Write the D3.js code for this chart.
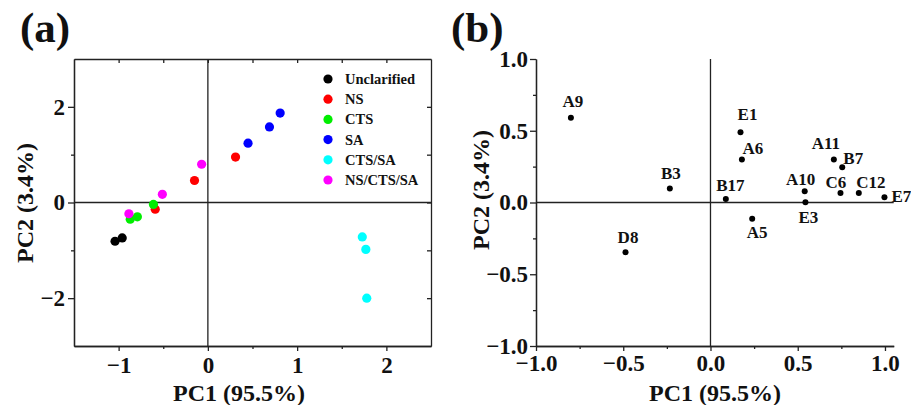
<!DOCTYPE html>
<html>
<head>
<meta charset="utf-8">
<script src="https://cdn.jsdelivr.net/npm/d3@7"></script>
<style>
  body { margin: 0; background: #fff; }
  svg text { font-family: "Liberation Serif", "Times New Roman", serif; font-weight: bold; fill: #111; }
</style>
</head>
<body>
<div id="chart"></div>
<script>
// ---- panel (a) data: PCA scores per treatment group ----
var groups = ["Unclarified", "NS", "CTS", "SA", "CTS/SA", "NS/CTS/SA"];
var groupColors = ["#000000", "#ff0000", "#00ee00", "#0000ff", "#00ffff", "#ff00ff"];
var groupPC1 = [
  [-1.04, -0.96],
  [-0.59, -0.15, 0.31],
  [-0.87, -0.79, -0.61],
  [0.45, 0.69, 0.81],
  [1.73, 1.77, 1.78],
  [-0.885, -0.51, -0.07]
];
var groupPC2 = [
  [-0.81, -0.74],
  [-0.14, 0.46, 0.95],
  [-0.35, -0.30, -0.04],
  [1.24, 1.58, 1.87],
  [-0.72, -0.98, -2.00],
  [-0.235, 0.17, 0.80]
];

// ---- panel (b) data: loadings ----
var varNames = ["A9", "E1", "A6", "A11", "B7", "B3", "A10", "C6", "C12", "E7", "B17", "E3", "A5", "D8"];
var varPC1 = [-0.80, 0.172, 0.18, 0.707, 0.755, -0.233, 0.54, 0.745, 0.85, 0.997, 0.088, 0.544, 0.239, -0.487];
var varPC2 = [0.59, 0.49, 0.30, 0.30, 0.246, 0.098, 0.079, 0.066, 0.066, 0.037, 0.024, 0.002, -0.114, -0.346];

// tick values
var aTicksX = [-1, 0, 1, 2], aMinorX = [-0.5, 0.5, 1.5];
var aTicksY = [-2, 0, 2], aMinorY = [-1, 1];
var bTicks = [-1, -0.5, 0, 0.5, 1], bMinor = [-0.75, -0.25, 0.25, 0.75];

// label offsets (px) for panel (b) text placement
var labelOffset = {
  A9: [2, -11], E1: [7, -12.5], A6: [11, -5], A11: [-8, -10], B7: [11, -3.5],
  B3: [1, -9], A10: [-4, -6], C6: [-4.5, -5.5], C12: [12, -5], E7: [17, 5],
  B17: [4.5, -8.5], E3: [3, 21], A5: [5, 19.5], D8: [2.5, -9]
};

var svg = d3.select("#chart").append("svg")
  .attr("width", 911)
  .attr("height", 405);

var axisColor = "#222";

function styleAxis(g) {
  g.selectAll("path, line").attr("stroke", axisColor).attr("stroke-width", 1.3);
  g.selectAll("text").attr("font-size", 23).attr("fill", "#111");
}

// ================= panel (a) =================
var ax = d3.scaleLinear().domain([-1.5, 2.5]).range([74, 431]);
var ay = d3.scaleLinear().domain([-3, 3]).range([346, 59]);
var fmtA = d3.format("d");

var pa = svg.append("g");

// minor ticks first (no labels)
pa.append("g").attr("transform", "translate(0,346)")
  .call(d3.axisBottom(ax).tickValues(aMinorX).tickSize(3).tickSizeOuter(0).tickFormat(""))
  .call(styleAxis);
pa.append("g").attr("transform", "translate(0,346)")
  .call(d3.axisBottom(ax).tickValues(aTicksX).tickSize(5).tickSizeOuter(0).tickPadding(6).tickFormat(fmtA))
  .call(styleAxis);
pa.append("g").attr("transform", "translate(74,0)")
  .call(d3.axisLeft(ay).tickValues(aMinorY).tickSize(3).tickSizeOuter(0).tickFormat(""))
  .call(styleAxis);
pa.append("g").attr("transform", "translate(74,0)")
  .call(d3.axisLeft(ay).tickValues(aTicksY).tickSize(6).tickSizeOuter(0).tickPadding(3).tickFormat(fmtA))
  .call(styleAxis);
// mirrored top and right with inward ticks
pa.append("g").attr("transform", "translate(0,59)")
  .call(d3.axisTop(ax).tickValues(aTicksX.concat(aMinorX)).tickSize(-4).tickSizeOuter(0).tickFormat(""))
  .call(styleAxis);
pa.append("g").attr("transform", "translate(431,0)")
  .call(d3.axisRight(ay).tickValues(aTicksY.concat(aMinorY)).tickSize(-4).tickSizeOuter(0).tickFormat(""))
  .call(styleAxis);

// zero lines
pa.append("line").attr("x1", ax(0)).attr("x2", ax(0)).attr("y1", ay(3)).attr("y2", ay(-3))
  .attr("stroke", axisColor).attr("stroke-width", 1.3);
pa.append("line").attr("x1", ax(-1.5)).attr("x2", ax(2.5)).attr("y1", ay(0)).attr("y2", ay(0))
  .attr("stroke", axisColor).attr("stroke-width", 1.3);

var pts = [];
groups.forEach(function(g, i) {
  groupPC1[i].forEach(function(x, j) {
    pts.push({ g: i, x: x, y: groupPC2[i][j] });
  });
});

pa.selectAll(".dotA").data(pts).enter()
  .append("circle")
  .attr("class", "dotA")
  .attr("cx", d => ax(d.x))
  .attr("cy", d => ay(d.y))
  .attr("r", 4.6)
  .attr("fill", d => groupColors[d.g]);

// legend
var legend = pa.selectAll(".leg").data(groups).enter()
  .append("g")
  .attr("transform", (d, i) => `translate(328, ${79 + i * 20.2})`);
legend.append("circle").attr("r", 4.6).attr("fill", (d, i) => groupColors[i]);
legend.append("text").attr("x", 17).attr("y", 5).attr("font-size", 14.5).text(d => d);

pa.append("text").attr("x", 239).attr("y", 401).attr("text-anchor", "middle")
  .attr("font-size", 24).text("PC1 (95.5%)");
pa.append("text").attr("transform", "translate(33,203) rotate(-90)").attr("text-anchor", "middle")
  .attr("font-size", 24).text("PC2 (3.4%)");
pa.append("text").attr("x", 20).attr("y", 42).attr("font-size", 43).text("(a)");

// ================= panel (b) =================
var bx = d3.scaleLinear().domain([-1, 1.05]).range([536, 893.7]);
var by = d3.scaleLinear().domain([-1, 1]).range([346, 59]);
var fmtB = d3.format(".1f");

var pb = svg.append("g");

pb.append("g").attr("transform", "translate(0,346)")
  .call(d3.axisBottom(bx).tickValues(bMinor).tickSize(3).tickSizeOuter(0).tickFormat(""))
  .call(styleAxis);
pb.append("g").attr("transform", "translate(0,346)")
  .call(d3.axisBottom(bx).tickValues(bTicks).tickSize(5).tickSizeOuter(0).tickPadding(4).tickFormat(fmtB))
  .call(styleAxis);
pb.append("g").attr("transform", "translate(536,0)")
  .call(d3.axisLeft(by).tickValues(bMinor).tickSize(3).tickSizeOuter(0).tickFormat(""))
  .call(styleAxis);
pb.append("g").attr("transform", "translate(536,0)")
  .call(d3.axisLeft(by).tickValues(bTicks).tickSize(6).tickSizeOuter(0).tickPadding(2).tickFormat(fmtB))
  .call(styleAxis);

pb.append("line").attr("x1", bx(0)).attr("x2", bx(0)).attr("y1", by(1)).attr("y2", by(-1))
  .attr("stroke", axisColor).attr("stroke-width", 1.3);
pb.append("line").attr("x1", bx(-1)).attr("x2", bx(1.05)).attr("y1", by(0)).attr("y2", by(0))
  .attr("stroke", axisColor).attr("stroke-width", 1.3);

var vars = varNames.map((n, i) => ({ n: n, x: varPC1[i], y: varPC2[i] }));

pb.selectAll(".dotB").data(vars).enter()
  .append("circle")
  .attr("class", "dotB")
  .attr("cx", d => bx(d.x))
  .attr("cy", d => by(d.y))
  .attr("r", 3)
  .attr("fill", "#000");

pb.selectAll(".lab").data(vars).enter()
  .append("text")
  .attr("class", "lab")
  .attr("x", d => bx(d.x) + labelOffset[d.n][0])
  .attr("y", d => by(d.y) + labelOffset[d.n][1])
  .attr("text-anchor", "middle")
  .attr("font-size", 17)
  .text(d => d.n);

pb.append("text").attr("x", 715).attr("y", 401).attr("text-anchor", "middle")
  .attr("font-size", 24).text("PC1 (95.5%)");
pb.append("text").attr("transform", "translate(489,190) rotate(-90)").attr("text-anchor", "middle")
  .attr("font-size", 24).text("PC2 (3.4%)");
pb.append("text").attr("x", 451).attr("y", 42).attr("font-size", 43).text("(b)");
</script>
</body>
</html>
